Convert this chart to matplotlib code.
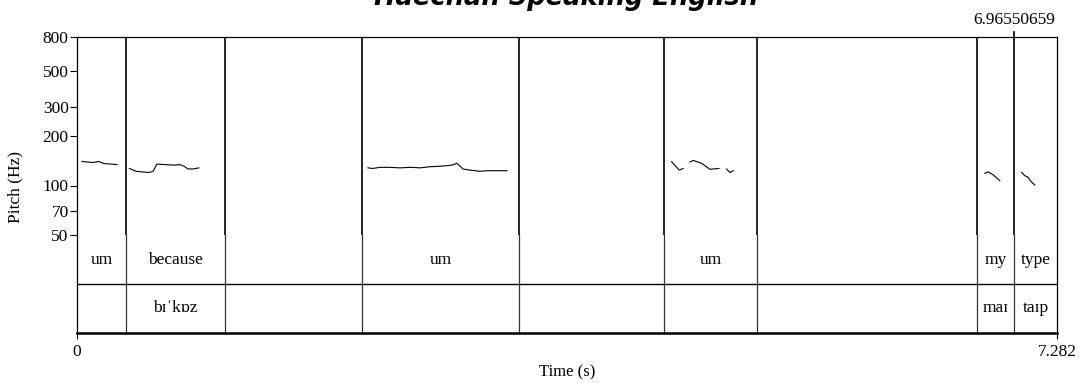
import numpy as np
import matplotlib
matplotlib.use("Agg")
import matplotlib.pyplot as plt

plt.rcParams['font.family'] = ['Liberation Serif', 'DejaVu Serif']

# time range and interval boundaries (s)
t_end = 7.282
cursor_t = 6.96550659
bounds = [0.364, 1.100, 2.117, 3.284, 4.361, 5.052, 6.687, 6.9655]

# word tier
words = ["um", "because", "", "um", "", "um", "", "my", "type"]
# phonetic tier
phones = ["", "bɪˈkɒz", "", "", "", "", "", "maɪ", "taɪp"]

# pitch contour pieces (time s, pitch Hz)
pitch_t = [
    [0.037, 0.08, 0.12, 0.16, 0.20, 0.25, 0.297],
    [0.389, 0.438, 0.483, 0.535, 0.565, 0.594, 0.654, 0.728, 0.765, 0.795, 0.825, 0.862, 0.906],
    [2.162, 2.199, 2.251, 2.32, 2.40, 2.48, 2.548, 2.62, 2.697, 2.749, 2.786, 2.823, 2.868, 2.920, 2.994, 3.05, 3.106, 3.195],
    [4.418, 4.475, 4.504],
    [4.554, 4.579, 4.641, 4.703, 4.770],
    [4.827, 4.851, 4.876],
    [6.746, 6.771, 6.808, 6.857],
    [7.019, 7.043, 7.068, 7.080, 7.097, 7.117],
]
pitch_hz = [
    [140, 139, 138, 140, 136, 135, 134],
    [127, 122, 121, 120, 122, 135, 134, 133, 134, 131, 126, 126, 128],
    [128, 127, 129, 129, 128, 129, 128, 130, 131, 132, 133, 136.5, 126, 124, 122, 123, 123, 123],
    [139.6, 124, 127],
    [139, 142, 136.5, 125.5, 127],
    [126, 120, 123],
    [118.6, 121, 116, 107],
    [120, 114.7, 112, 108, 104, 100.7],
]

fig = plt.figure(figsize=(10.81, 3.83), dpi=100)
ax = fig.add_axes([77/1081, 1-235/383, 980/1081, 198/383])
tx = fig.add_axes([77/1081, 1-333/383, 980/1081, 98/383])

# pitch panel
for tt, hh in zip(pitch_t, pitch_hz):
    ax.plot(tt, hh, color='black', lw=0.8)
for b in bounds:
    ax.axvline(b, color='black', lw=1.2)
ax.set_yscale('log')
ax.set_ylim(50, 800)
ax.set_xlim(0, t_end)
yt = [50, 70, 100, 200, 300, 500, 800]
ax.set_yticks(yt)
ax.set_yticklabels([str(v) for v in yt])
ax.yaxis.set_minor_locator(matplotlib.ticker.NullLocator())
ax.set_xticks([])
ax.tick_params(axis='y', labelsize=12.5, length=5, width=0.8, pad=1)
for s in ax.spines.values():
    s.set_linewidth(0.9)
ax.spines['bottom'].set_visible(False)

# y label centred lower, as in the reference
fig.text(15/1081, 1-187/383, "Pitch (Hz)", rotation=90, ha='center', va='center', fontsize=12.5)

# cursor line above the panel
ax.plot([cursor_t, cursor_t], [800, 860], color='black', lw=1.2, clip_on=False)
ax.text(cursor_t, 1015, "%.8f" % cursor_t, ha='center', va='center', fontsize=12.5)

# tiers
edges = [0] + bounds + [t_end]
tx.set_xlim(0, t_end)
tx.set_ylim(0, 2)
tx.axhline(1, color='black', lw=1.0)
for b in bounds:
    tx.axvline(b, color='#333333', lw=0.9)
for i in range(len(words)):
    mid = (edges[i] + edges[i+1]) / 2
    if words[i]:
        tx.text(mid, 1.5, words[i], ha='center', va='center', fontsize=12.5)
    if phones[i]:
        tx.text(mid, 0.5, phones[i], ha='center', va='center', fontsize=12.5)
tx.set_yticks([])
tx.set_xticks([0, t_end])
tx.set_xticklabels(["0", "7.282"])
tx.tick_params(axis='x', labelsize=12.5, length=4, width=0.8, pad=4)
tx.set_xlabel("Time (s)", fontsize=12, labelpad=3)
for s in tx.spines.values():
    s.set_linewidth(0.9)
tx.spines['bottom'].set_linewidth(1.8)
tx.spines['top'].set_visible(False)

fig.text(566/1081, 1-5/383, "Haechan Speaking English", ha='center', va='baseline',
         fontsize=18.5, fontweight='bold', fontstyle='italic', family='DejaVu Sans')

fig.savefig("out.png", dpi=100)
